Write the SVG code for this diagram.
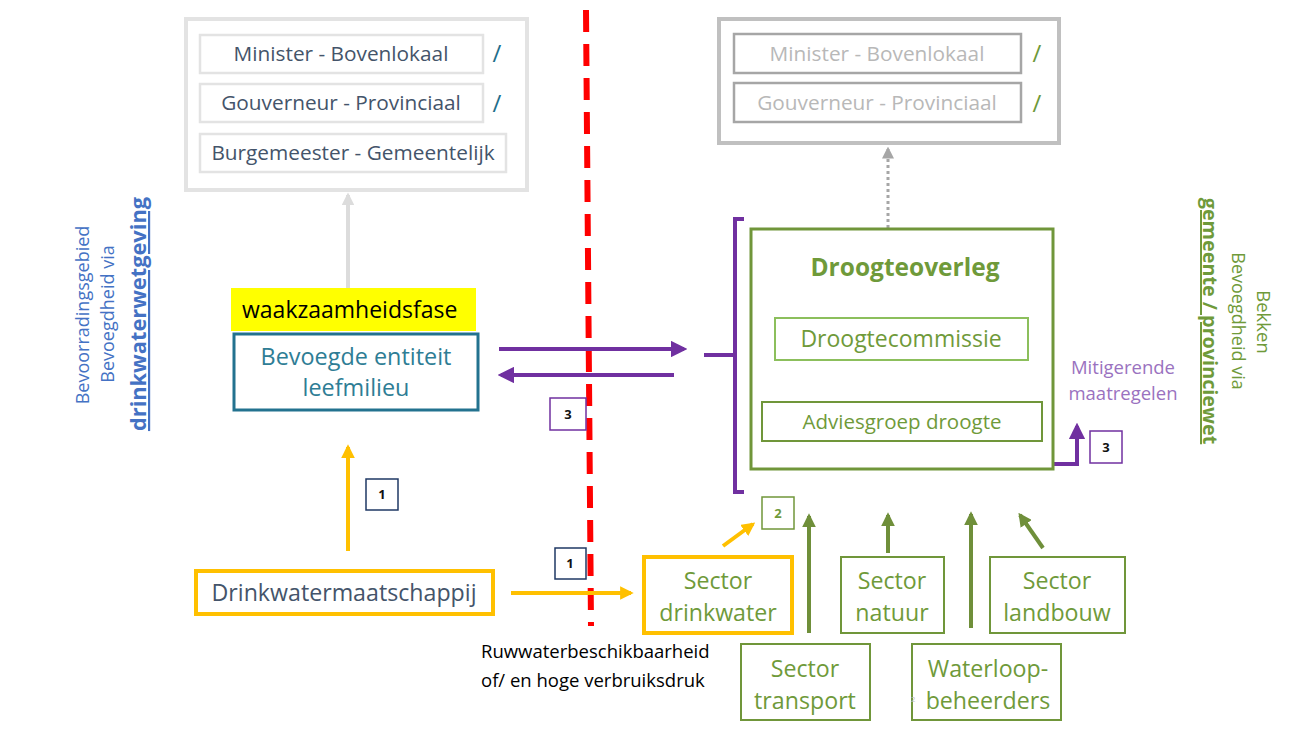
<svg xmlns="http://www.w3.org/2000/svg" width="1300" height="729" viewBox="0 0 1300 729">
<defs>
<style>
text{font-family:"Open Sans","Noto Sans","Liberation Sans",sans-serif;}
.slate{fill:#44546a;font-size:20.8px;}
.gtxt{fill:#b8b8b8;font-size:20.8px;}
.green{fill:#6f9a3a;font-size:23.2px;}
.num{font-size:13px;font-weight:bold;fill:#111;}
.gbox{fill:#fff;stroke:#70963a;stroke-width:2;}
</style>
<marker id="ay" viewBox="0 0 10 10" refX="8" refY="5" markerWidth="3.4" markerHeight="3.4" orient="auto"><path d="M0,0L10,5L0,10z" fill="#ffc000"/></marker>
<marker id="ag" viewBox="0 0 10 10" refX="8" refY="5" markerWidth="3.4" markerHeight="3.4" orient="auto"><path d="M0,0L10,5L0,10z" fill="#6f8f3a"/></marker>
<marker id="ap" viewBox="0 0 10 10" refX="8" refY="5" markerWidth="4.2" markerHeight="4.2" orient="auto"><path d="M0,0L10,5L0,10z" fill="#7030a0"/></marker>
<marker id="agr" viewBox="0 0 10 10" refX="8" refY="5" markerWidth="3.2" markerHeight="3.2" orient="auto"><path d="M0,0L10,5L0,10z" fill="#dcdcdc"/></marker>
<marker id="ad" viewBox="0 0 10 10" refX="8" refY="5" markerWidth="4" markerHeight="4" orient="auto"><path d="M0,0L10,5L0,10z" fill="#a6a6a6"/></marker>
</defs>
<rect width="1300" height="729" fill="#fff"/>

<g id="left-authorities">
<rect x="186" y="19" width="341" height="171" fill="#fff" stroke="#e3e3e3" stroke-width="4"/>
<rect x="200" y="35" width="283" height="38" fill="#fff" stroke="#e3e3e3" stroke-width="2.5"/>
<text class="slate" x="341" y="61" text-anchor="middle">Minister - Bovenlokaal</text>
<rect x="200" y="84" width="283" height="38" fill="#fff" stroke="#e3e3e3" stroke-width="2.5"/>
<text class="slate" x="341" y="110" text-anchor="middle">Gouverneur - Provinciaal</text>
<rect x="200" y="134" width="306" height="38" fill="#fff" stroke="#e3e3e3" stroke-width="2.5"/>
<text class="slate" x="353" y="160" text-anchor="middle">Burgemeester - Gemeentelijk</text>
<text x="497" y="62" text-anchor="middle" font-size="24" fill="#1f6f8b">/</text>
<text x="497" y="112" text-anchor="middle" font-size="24" fill="#1f6f8b">/</text>
</g>

<g id="right-authorities">
<rect x="719" y="19" width="340" height="124" fill="#fff" stroke="#c0c0c0" stroke-width="4"/>
<rect x="734" y="34" width="287" height="39" fill="#fff" stroke="#a6a6a6" stroke-width="2.5"/>
<text class="gtxt" x="877" y="61" text-anchor="middle">Minister - Bovenlokaal</text>
<rect x="734" y="83" width="287" height="39" fill="#fff" stroke="#a6a6a6" stroke-width="2.5"/>
<text class="gtxt" x="877" y="110" text-anchor="middle">Gouverneur - Provinciaal</text>
<text x="1037" y="62" text-anchor="middle" font-size="24" fill="#6f9a3a">/</text>
<text x="1037" y="112" text-anchor="middle" font-size="24" fill="#6f9a3a">/</text>
</g>

<g id="left-label" fill="#4472c4">
<text transform="translate(89,315) rotate(-90)" text-anchor="middle" font-size="18">Bevoorradingsgebied</text>
<text transform="translate(114,314) rotate(-90)" text-anchor="middle" font-size="18">Bevoegdheid via</text>
<text transform="translate(146,314) rotate(-90)" text-anchor="middle" font-size="21.8" font-weight="bold" text-decoration="underline">drinkwaterwetgeving</text>
</g>
<g id="right-label" fill="#6f9a3a">
<text transform="translate(1257,322) rotate(90)" text-anchor="middle" font-size="18.5">Bekken</text>
<text transform="translate(1232,321) rotate(90)" text-anchor="middle" font-size="18">Bevoegdheid via</text>
<text transform="translate(1203,321) rotate(90)" text-anchor="middle" font-size="19.8" font-weight="bold" text-decoration="underline">gemeente / provinciewet</text>
</g>

<line id="boundary" x1="586" y1="10" x2="591" y2="626" stroke="#ff0000" stroke-width="6" stroke-dasharray="22,12"/>

<g id="connectors" fill="none">
<line x1="348" y1="288" x2="348" y2="195" stroke="#dcdcdc" stroke-width="4" marker-end="url(#agr)"/>
<line x1="888" y1="228" x2="888" y2="149" stroke="#a6a6a6" stroke-width="3" stroke-dasharray="3,3" marker-end="url(#ad)"/>
<line x1="897" y1="398" x2="897" y2="368" stroke="#a6a6a6" stroke-width="3" stroke-dasharray="3,3" marker-end="url(#ad)"/>
<line x1="348" y1="551" x2="348" y2="447" stroke="#ffc000" stroke-width="4" marker-end="url(#ay)"/>
<line x1="511" y1="593" x2="631" y2="593" stroke="#ffc000" stroke-width="4" marker-end="url(#ay)"/>
<line x1="723" y1="546" x2="753" y2="524" stroke="#ffc000" stroke-width="4" marker-end="url(#ay)"/>
<line x1="499" y1="349" x2="684" y2="349" stroke="#7030a0" stroke-width="4" marker-end="url(#ap)"/>
<line x1="674" y1="375" x2="501" y2="375" stroke="#7030a0" stroke-width="4" marker-end="url(#ap)"/>
<polyline points="1049,464 1077,464 1077,426" stroke="#7030a0" stroke-width="4" marker-end="url(#ap)"/>
<path d="M744,219 L735,219 L735,492 L744,492 M704,355 L735,355" stroke="#7030a0" stroke-width="4"/>
<line x1="809" y1="633" x2="809" y2="516" stroke="#6f8f3a" stroke-width="4" marker-end="url(#ag)"/>
<line x1="888" y1="553" x2="888" y2="515" stroke="#6f8f3a" stroke-width="4" marker-end="url(#ag)"/>
<line x1="971" y1="628" x2="971" y2="514" stroke="#6f8f3a" stroke-width="4" marker-end="url(#ag)"/>
<line x1="1043" y1="548" x2="1020" y2="515" stroke="#6f8f3a" stroke-width="4" marker-end="url(#ag)"/>
</g>

<g id="waakzaamheid">
<rect x="231" y="288" width="245" height="43" fill="#ffff00"/>
<text x="242" y="318" font-size="23" fill="#000">waakzaamheidsfase</text>
</g>

<g id="bevoegde-entiteit">
<rect x="234" y="334" width="244" height="76" fill="#fff" stroke="#23728f" stroke-width="3"/>
<text x="356" y="365" text-anchor="middle" font-size="23.4" fill="#2e7d95">Bevoegde entiteit</text>
<text x="356" y="396" text-anchor="middle" font-size="23.4" fill="#2e7d95">leefmilieu</text>
</g>

<g id="drinkwatermaatschappij">
<rect x="196" y="571" width="297" height="43" fill="#fff" stroke="#ffc000" stroke-width="4"/>
<text x="344" y="601" text-anchor="middle" font-size="23.2" fill="#44546a">Drinkwatermaatschappij</text>
</g>

<g id="badges">
<rect x="366" y="479" width="32" height="31" fill="#fff" stroke="#1f3864" stroke-width="1.5"/>
<text class="num" x="382" y="499" text-anchor="middle">1</text>
<rect x="555" y="548" width="31" height="31" fill="#fff" stroke="#1f3864" stroke-width="1.5"/>
<text class="num" x="570" y="568" text-anchor="middle">1</text>
<rect x="550" y="398" width="36" height="32" fill="#fff" stroke="#7030a0" stroke-width="1.5"/>
<text class="num" x="568" y="419" text-anchor="middle">3</text>
<rect x="1090" y="431" width="32" height="32" fill="#fff" stroke="#7030a0" stroke-width="1.5"/>
<text class="num" x="1106" y="452" text-anchor="middle">3</text>
<rect x="762" y="497" width="32" height="32" fill="#fff" stroke="#70963a" stroke-width="1.5"/>
<text x="778" y="518" text-anchor="middle" font-size="13" font-weight="bold" fill="#6f9a3a">2</text>
</g>

<g id="droogteoverleg">
<rect x="751" y="229" width="302" height="240" fill="#fff" stroke="#70963a" stroke-width="3"/>
<text x="905" y="276" text-anchor="middle" font-size="24.5" font-weight="bold" fill="#6f9a3a">Droogteoverleg</text>
</g>
<g id="droogtecommissie">
<rect x="775" y="318" width="253" height="42" fill="#fff" stroke="#8cbf5c" stroke-width="2"/>
<text class="green" x="901" y="347" text-anchor="middle" style="font-size:23px">Droogtecommissie</text>
</g>
<g id="adviesgroep">
<rect x="762" y="402" width="280" height="39" fill="#fff" stroke="#70963a" stroke-width="2"/>
<text x="902" y="429" text-anchor="middle" font-size="20.5" fill="#6f9a3a">Adviesgroep droogte</text>
</g>

<g id="mitigerende">
<text x="1123" y="374" text-anchor="middle" font-size="18.5" fill="#9a72c0">Mitigerende</text>
<text x="1123" y="400" text-anchor="middle" font-size="18.5" fill="#9a72c0">maatregelen</text>
</g>

<g id="sector-drinkwater">
<rect x="644" y="557" width="148" height="76" fill="#fff" stroke="#ffc000" stroke-width="4"/>
<text class="green" x="718" y="589" text-anchor="middle">Sector</text>
<text class="green" x="718" y="621" text-anchor="middle">drinkwater</text>
</g>
<g id="sector-natuur">
<rect class="gbox" x="841" y="557" width="103" height="76"/>
<text class="green" x="892" y="589" text-anchor="middle">Sector</text>
<text class="green" x="892" y="621" text-anchor="middle">natuur</text>
</g>
<g id="sector-landbouw">
<rect class="gbox" x="990" y="557" width="135" height="76"/>
<text class="green" x="1057" y="589" text-anchor="middle">Sector</text>
<text class="green" x="1057" y="621" text-anchor="middle">landbouw</text>
</g>
<g id="sector-transport">
<rect class="gbox" x="741" y="644" width="129" height="76"/>
<text class="green" x="805" y="677" text-anchor="middle">Sector</text>
<text class="green" x="805" y="709" text-anchor="middle">transport</text>
</g>
<g id="waterloopbeheerders">
<rect class="gbox" x="912" y="644" width="149" height="76"/>
<text class="green" x="988" y="677" text-anchor="middle">Waterloop-</text>
<text class="green" x="988" y="709" text-anchor="middle">beheerders</text>
<text x="913" y="702" text-anchor="middle" font-size="8" fill="#bbbbbb">2</text>
</g>

<g id="ruwwater-label">
<text x="481" y="658" font-size="18.5" fill="#000">Ruwwaterbeschikbaarheid</text>
<text x="481" y="687" font-size="18.5" fill="#000">of/ en hoge verbruiksdruk</text>
</g>
</svg>
